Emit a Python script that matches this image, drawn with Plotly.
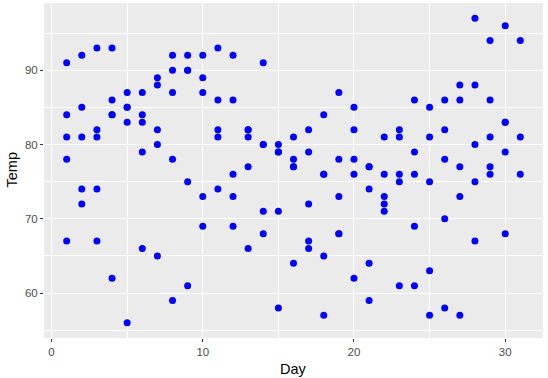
import plotly.graph_objects as go

may = [67, 72, 74, 62, 56, 66, 65, 59, 61, 69, 74, 69, 66, 68, 58, 64, 66, 57, 68, 62, 59, 73, 61, 61, 57, 58, 57, 67, 81, 79, 76]
jun = [78, 74, 67, 84, 85, 79, 82, 87, 90, 87, 93, 92, 82, 80, 79, 77, 72, 65, 73, 76, 77, 76, 76, 76, 75, 78, 73, 80, 77, 83]
jul = [84, 85, 81, 84, 83, 83, 88, 92, 92, 89, 82, 73, 81, 91, 80, 81, 82, 84, 87, 85, 74, 81, 82, 86, 85, 82, 86, 88, 86, 83, 81]
aug = [81, 81, 82, 86, 85, 87, 89, 90, 90, 92, 86, 86, 82, 80, 79, 77, 79, 76, 78, 78, 77, 72, 75, 79, 81, 86, 88, 97, 94, 96, 94]
sep = [91, 92, 93, 93, 87, 84, 80, 78, 75, 73, 81, 76, 77, 71, 71, 78, 67, 76, 68, 82, 64, 71, 81, 69, 63, 70, 77, 75, 76, 68]

day = []
temp = []
for month in [may, jun, jul, aug, sep]:
    day += list(range(1, len(month) + 1))
    temp += month

fig = go.Figure(go.Scatter(
    x=day, y=temp, mode="markers",
    marker=dict(color="#0000FF", size=7, line=dict(width=0)),
    hoverinfo="x+y",
))

font_family = "Liberation Sans, Arial, sans-serif"
axis_common = dict(
    showgrid=True, gridcolor="white", gridwidth=1.1,
    zeroline=False, showline=False, automargin=False,
    ticks="outside", ticklen=3, tickcolor="#333333", tickwidth=1.1,
    tickfont=dict(family=font_family, size=11.5, color="#4D4D4D"),
)

fig.update_layout(
    width=548, height=378,
    margin=dict(l=44, r=5, t=3, b=40),
    paper_bgcolor="white", plot_bgcolor="#EBEBEB",
    showlegend=False,
    xaxis=dict(range=[-0.5, 32.5], tick0=0, dtick=10,
               minor=dict(showgrid=True, gridcolor="white", gridwidth=0.5, tick0=0, dtick=5, ticks=""),
               **axis_common),
    yaxis=dict(range=[53.95, 99.05], tick0=0, dtick=10,
               minor=dict(showgrid=True, gridcolor="white", gridwidth=0.5, tick0=0, dtick=5, ticks=""),
               **axis_common),
    annotations=[
        dict(text="Day", xref="paper", yref="paper", x=0.5, y=0, yshift=-31,
             xanchor="center", yanchor="middle", showarrow=False,
             font=dict(family=font_family, size=14.5, color="black")),
        dict(text="Temp", xref="paper", yref="paper", x=0, y=0.5, xshift=-33,
             xanchor="center", yanchor="middle", textangle=-90, showarrow=False,
             font=dict(family=font_family, size=14.5, color="black")),
    ],
)

fig.write_html("out.html",
               config={"displayModeBar": False},
               post_script="document.body.style.margin='0';document.body.style.overflow='hidden';")
